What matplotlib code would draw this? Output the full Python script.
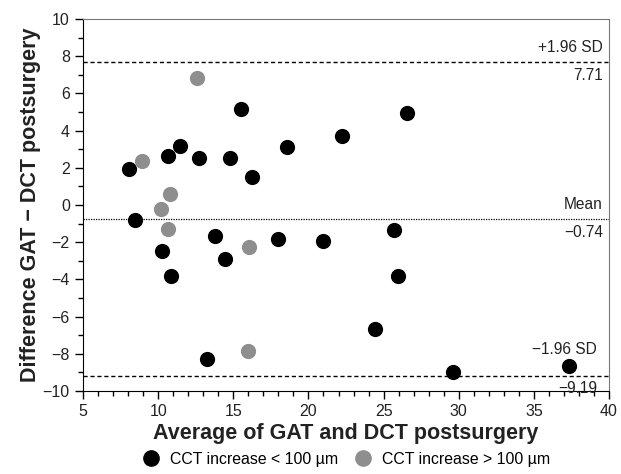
import matplotlib
matplotlib.use("Agg")
import matplotlib.pyplot as plt
from matplotlib.ticker import MultipleLocator
from matplotlib.lines import Line2D

plt.rcParams['font.family'] = ['Liberation Sans', 'DejaVu Sans']

# --- data ---
black_x = [8.08, 8.46, 10.68, 11.48, 12.72, 14.78, 15.53, 16.26, 18.55, 22.2, 26.56,
           10.28, 10.88, 13.78, 14.45, 17.97, 21.0, 25.7, 25.98, 24.41, 13.23, 29.59, 37.36]
black_y = [1.95, -0.83, 2.66, 3.16, 2.55, 2.55, 5.14, 1.53, 3.11, 3.69, 4.94,
           -2.45, -3.79, -1.65, -2.88, -1.85, -1.95, -1.35, -3.79, -6.69, -8.27, -8.99, -8.63]
gray_x = [8.9, 12.6, 10.79, 10.17, 10.68, 16.07, 16.0]
gray_y = [2.35, 6.8, 0.58, -0.24, -1.28, -2.25, -7.86]

mean_diff = -0.74
upper_loa = 7.71
lower_loa = -9.19

fig = plt.figure(figsize=(6.21, 4.74), dpi=100)
ax = fig.add_axes([0.1337, 0.175, 0.847, 0.785])

ax.scatter(black_x, black_y, s=120, color='black', zorder=3, linewidths=0)
ax.scatter(gray_x, gray_y, s=120, color='#8e8e8e', zorder=3, linewidths=0)

ax.axhline(upper_loa, color='black', linestyle=(0, (3, 2)), linewidth=1.0)
ax.axhline(lower_loa, color='black', linestyle=(0, (3, 2)), linewidth=1.0)
ax.axhline(mean_diff, color='black', linestyle=(0, (1, 1)), linewidth=0.9)

ax.set_xlim(5, 40)
ax.set_ylim(-10, 10)
ax.xaxis.set_major_locator(MultipleLocator(5))
ax.xaxis.set_minor_locator(MultipleLocator(1))
ax.yaxis.set_major_locator(MultipleLocator(2))
ax.yaxis.set_minor_locator(MultipleLocator(1))
ax.tick_params(which='major', length=6, width=1, labelsize=11.5, colors='black', labelcolor='#222222')
ax.tick_params(which='minor', length=3.5, width=1)

for side in ['top', 'right']:
    ax.spines[side].set_color('#777777')

fs = 11.2
tx = 39.6
ax.text(tx, upper_loa + 0.35, '+1.96 SD', ha='right', va='bottom', fontsize=fs, color='#222222')
ax.text(tx, upper_loa - 0.35, '7.71', ha='right', va='top', fontsize=fs, color='#222222')
ax.text(tx, mean_diff + 0.35, 'Mean', ha='right', va='bottom', fontsize=fs, color='#222222')
ax.text(tx, mean_diff - 0.35, '\u22120.74', ha='right', va='top', fontsize=fs, color='#222222')
ax.text(39.2, lower_loa + 1.0, '\u22121.96 SD', ha='right', va='bottom', fontsize=fs, color='#222222')
ax.text(39.2, lower_loa - 0.25, '\u22129.19', ha='right', va='top', fontsize=fs, color='#222222')

ax.set_xlabel('Average of GAT and DCT postsurgery', fontsize=15.5, fontweight='bold', color='#222222', labelpad=3)
ax.set_ylabel('Difference GAT \u2212 DCT postsurgery', fontsize=15.5, fontweight='bold', color='#222222', labelpad=1.5)

handles = [
    Line2D([], [], marker='o', linestyle='', color='black', markersize=11, label='CCT increase < 100 \u00b5m'),
    Line2D([], [], marker='o', linestyle='', color='#8e8e8e', markersize=11, label='CCT increase > 100 \u00b5m'),
]
fig.legend(handles=handles, loc='center', bbox_to_anchor=(0.557, 0.031), ncol=2, frameon=False,
           fontsize=11.4, handletextpad=0.6, columnspacing=1.0, handlelength=1.2)

fig.savefig('out.png', dpi=100)
